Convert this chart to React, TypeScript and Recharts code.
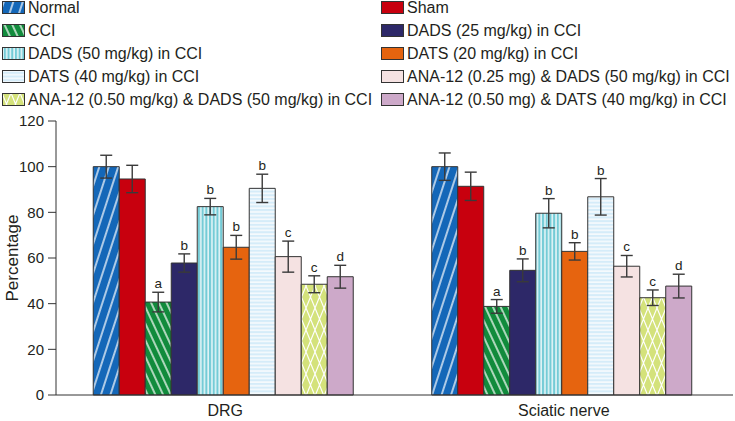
import { BarChart, Bar, XAxis, YAxis, ErrorBar, LabelList } from 'recharts';

const categories = ['DRG', 'Sciatic nerve'];

const groups = [
  'Normal',
  'Sham',
  'CCI',
  'DADS (25 mg/kg) in CCI',
  'DADS (50 mg/kg) in CCI',
  'DATS (20 mg/kg) in CCI',
  'DATS (40 mg/kg) in CCI',
  'ANA-12 (0.25 mg) & DADS (50 mg/kg) in CCI',
  'ANA-12 (0.50 mg/kg) & DADS (50 mg/kg) in CCI',
  'ANA-12 (0.50 mg) & DATS (40 mg/kg) in CCI'
];

const drgValues = [100, 94.6, 40.7, 57.8, 82.5, 64.7, 90.5, 60.6, 48.5, 51.8];
const drgErrors = [5, 6, 4.3, 4, 3.6, 5.2, 6.2, 6.8, 3.7, 5];
const sciaticValues = [100, 91.4, 38.8, 54.6, 79.6, 62.9, 86.8, 56.4, 42.6, 47.7];
const sciaticErrors = [6, 6.2, 3, 5, 6.4, 3.8, 8, 4.7, 3.4, 5.2];
const letters = ['', '', 'a', 'b', 'b', 'b', 'b', 'c', 'c', 'd'];
const yTicks = [0, 20, 40, 60, 80, 100, 120];

const fills = [
  'url(#pNormal)',
  '#c8000e',
  'url(#pCci)',
  '#2d2868',
  'url(#pVert)',
  '#e6640f',
  'url(#pHoriz)',
  '#f5e2e2',
  'url(#pDiamond)',
  '#cda9c9'
];

const values = [drgValues, sciaticValues];
const errors = [drgErrors, sciaticErrors];

const data = categories.map((name, ci) => {
  const row: any = { name };
  groups.forEach((_, i) => {
    row[`s${i}`] = values[ci][i];
    row[`e${i}`] = errors[ci][i];
  });
  return row;
});

const W = 735;
const H = 421;
const M = { top: 121, right: 2, bottom: 2, left: 6 };
const X_AXIS_H = 24;
const Y_MAX = 120;
const PX_PER_UNIT = (H - M.top - M.bottom - X_AXIS_H) / Y_MAX;

const FONT = '"Liberation Sans", Arial, Helvetica, sans-serif';
const INK = '#231f20';
const EDGE = '#333';

function letterLabel(series: number) {
  return (p: any) => {
    const txt = letters[series];
    if (!txt) return null;
    const err = errors[p.index][series];
    const cx = p.x + p.width / 2;
    const top = p.y - err * PX_PER_UNIT;
    return (
      <text x={cx} y={top - 4} textAnchor="middle" fontSize={13.5} fill={INK} fontFamily={FONT}>
        {txt}
      </text>
    );
  };
}

function YLabel(props: any) {
  const vb = props.viewBox || { x: 0, y: 0, width: 0, height: 0 };
  const x = 12;
  const y = vb.y + vb.height / 2;
  return (
    <text x={x} y={y} transform={`rotate(-90 ${x} ${y})`} textAnchor="middle" dominantBaseline="central"
      fontSize={17} fill={INK} fontFamily={FONT}>
      Percentage
    </text>
  );
}

function Legend() {
  return (
    <div style={{
      position: 'absolute', left: 2, top: -4, zIndex: 2,
      display: 'grid', gridTemplateColumns: '379px auto', gridAutoRows: '23px',
      fontFamily: FONT, fontSize: 16, color: INK
    }}>
      {groups.map((g, i) => (
        <div key={g} style={{ display: 'flex', alignItems: 'center', whiteSpace: 'nowrap' }}>
          <svg width={23} height={13} style={{ marginRight: 3, flex: 'none' }}>
            <rect x={0.5} y={0.5} width={22} height={12} fill={fills[i]} stroke={EDGE} strokeWidth={1} />
          </svg>
          <span>{g}</span>
        </div>
      ))}
    </div>
  );
}

export default function App() {
  return (
    <div style={{ position: 'absolute', left: 0, top: 0, width: W, height: H, background: '#fff' }}>
      <BarChart width={W} height={H} data={data} margin={M} barCategoryGap="11%" barGap={0}>
        <defs>
          <pattern id="pNormal" width="9" height="9" patternUnits="userSpaceOnUse" patternTransform="rotate(18)">
            <rect width="9" height="9" fill="#1467b8" />
            <line x1="2" y1="0" x2="2" y2="9" stroke="#fff" strokeWidth="1.3" />
          </pattern>
          <pattern id="pCci" width="7" height="7" patternUnits="userSpaceOnUse" patternTransform="rotate(-25)">
            <rect width="7" height="7" fill="#118b3c" />
            <line x1="2" y1="0" x2="2" y2="7" stroke="#fff" strokeWidth="1.3" />
          </pattern>
          <pattern id="pVert" width="3.7" height="4" patternUnits="userSpaceOnUse">
            <rect width="3.7" height="4" fill="#74cbd6" />
            <line x1="1" y1="0" x2="1" y2="4" stroke="#fff" strokeWidth="1.3" />
          </pattern>
          <pattern id="pHoriz" width="4" height="3.7" patternUnits="userSpaceOnUse">
            <rect width="4" height="3.7" fill="#d5ecf9" />
            <line x1="0" y1="1" x2="4" y2="1" stroke="#fff" strokeWidth="1.3" />
          </pattern>
          <pattern id="pDiamond" width="9" height="22" patternUnits="userSpaceOnUse">
            <rect width="9" height="22" fill="#d4e27b" />
            <path d="M0,0 L9,22 M9,0 L0,22" stroke="#fff" strokeWidth="1.2" fill="none" />
          </pattern>
        </defs>
        <XAxis xAxisId="edge" type="number" domain={[0, 2]} ticks={[0, 1, 2]} tick={false}
          axisLine={false} tickLine={{ stroke: EDGE }} tickSize={5} height={0} allowDataOverflow />
        <XAxis dataKey="name" height={X_AXIS_H} tickLine={false} tickMargin={4}
          axisLine={{ stroke: EDGE }} tick={{ fontSize: 16, fill: INK, fontFamily: FONT }} />
        <YAxis domain={[0, Y_MAX]} ticks={yTicks} width={50} tickSize={8} tickMargin={4} interval={0}
          axisLine={{ stroke: EDGE }} tickLine={{ stroke: EDGE }}
          tick={{ fontSize: 15, fill: INK, fontFamily: FONT }} label={<YLabel />} />
        {groups.map((g, i) => (
          <Bar key={g} dataKey={`s${i}`} name={g} fill={fills[i]} stroke={EDGE} strokeWidth={1}
            isAnimationActive={false}>
            <ErrorBar dataKey={`e${i}`} width={6} stroke="#3a3a3a" strokeWidth={1.4} />
            <LabelList dataKey={`s${i}`} content={letterLabel(i)} />
          </Bar>
        ))}
      </BarChart>
      <Legend />
    </div>
  );
}
